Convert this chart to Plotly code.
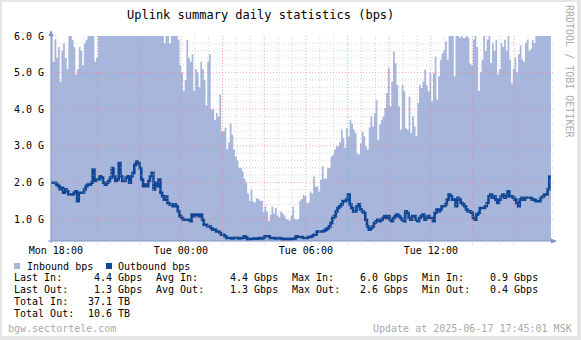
import plotly.graph_objects as go
import pandas as pd

# ---------------- data (Gbps, 5-minute samples starting Mon 17:46) ----------------
title_text = "Uplink summary daily statistics (bps)"
series_names = ["Inbound bps", "Outbound bps"]

inbound_gbps = [
    6.0, 5.3, 5.9, 5.4, 5.7, 4.75, 5.6, 5.8, 5.4, 5.1,
    6.0, 6.0, 5.9, 5.7, 4.95, 5.1, 5.7, 5.6, 5.2, 5.8,
    5.9, 6.0, 6.0, 6.0, 6.0, 5.3, 5.4,
    6.0, 6.0, 6.0, 6.0, 6.0, 6.0, 6.0, 6.0, 6.0, 6.0,
    6.0, 6.0, 6.0, 6.0, 6.0, 6.0, 6.0, 6.0, 6.0, 6.0,
    6.0, 6.0, 6.0, 6.0, 6.0, 6.0, 6.0, 6.0, 6.0, 6.0,
    6.0, 6.0, 6.0, 6.0, 6.0, 6.0, 6.0, 6.0,
    5.8, 6.0,
    6.0, 5.8, 6.0, 6.0, 6.0, 6.0, 5.9, 5.2, 5.0, 4.5,
    4.8, 5.9, 5.4, 5.3, 5.5, 4.5, 5.1, 5.0, 4.6, 5.3,
    5.1, 4.8, 4.1, 5.3, 5.5, 4.0, 4.0, 3.7, 3.9, 3.8,
    4.4, 3.4, 3.4, 3.5, 2.9, 3.1, 3.6, 3.3, 2.9, 2.7,
    2.6, 2.4, 2.4, 2.3, 2.1, 2.0, 1.7, 1.5, 1.8, 1.48,
    1.45, 1.57, 1.55, 1.5, 1.5, 1.2, 1.34, 1.2, 0.95, 1.12,
    1.34, 1.15, 1.3, 1.1, 1.05, 1.2, 1.15, 1.1, 1.0, 0.98,
    0.95, 1.1, 1.34, 1.0, 0.98, 1.0, 1.5, 1.55, 1.66, 1.62,
    1.43, 1.45, 1.75, 1.7, 2.16, 1.89, 1.89, 1.75, 2.07, 2.44,
    2.1, 2.1, 2.39, 2.4, 2.71, 2.75, 2.89, 2.98, 3.0, 3.1,
    3.44, 3.21, 2.94, 3.48, 3.26, 3.71, 3.6, 3.44, 3.35, 2.8,
    2.76, 3.07, 3.39, 3.26, 2.98, 2.89, 3.5, 3.8, 3.53, 3.89,
    4.26, 3.16, 3.58, 3.71, 3.8, 4.03, 4.44, 5.13, 4.08, 4.76,
    5.58, 5.26, 4.66, 4.08, 3.44, 4.66, 4.49, 3.48, 3.44, 4.35,
    3.35, 3.8, 3.53, 3.26, 4.17, 4.66, 4.58, 4.76, 5.08, 4.66,
    4.49, 4.99, 4.21, 4.99, 5.44, 4.26, 4.9, 5.35, 5.53, 5.62,
    5.85, 5.35, 6.0, 6.0, 6.0, 4.9, 6.0, 6.0, 5.95, 6.0,
    5.95, 5.95, 6.0, 5.95, 5.25, 5.2, 5.9, 6.0, 5.7, 4.5,
    5.0, 5.35, 6.0, 5.6, 5.9, 6.0, 5.26, 5.8, 5.6, 5.9,
    4.95, 5.1, 5.8, 5.7, 5.9, 5.6, 6.0, 5.35, 4.7, 5.1,
    5.4, 5.0, 5.5, 5.75, 5.35, 5.3, 5.8, 5.9, 5.6, 5.65,
    5.9, 5.8, 6.0, 6.0, 6.0, 6.0, 6.0, 6.0, 6.0, 6.0, 6.0,
]

outbound_gbps = [
    1.99, 1.99, 1.99, 1.94, 1.90, 1.81, 1.85, 1.72, 1.81, 1.76,
    1.67, 1.67, 1.67, 1.72, 1.76, 1.49, 1.72, 1.72, 1.72, 1.81,
    1.90, 1.94, 1.94, 1.99, 2.35, 2.04, 2.08, 2.08, 2.17, 2.13,
    1.99, 1.94, 1.99, 2.04, 2.13, 2.39, 2.17, 2.04, 2.08, 2.53,
    2.17, 2.04, 2.04, 2.13, 2.17, 1.99, 2.17, 2.26, 2.48, 2.57,
    2.53, 2.39, 2.08, 1.90, 1.94, 1.90, 2.04, 2.17, 2.26, 1.81,
    1.99, 1.90, 2.08, 1.72, 1.62, 1.53, 1.62, 1.44, 1.40, 1.40,
    1.35, 1.40, 1.35, 1.21, 1.08, 1.03, 0.98, 0.98, 0.98, 0.98,
    0.94, 1.12, 1.08, 1.12, 1.12, 1.08, 1.12, 0.98, 0.84, 0.84,
    0.80, 0.80, 0.75, 0.71, 0.71, 0.66, 0.66, 0.62, 0.57, 0.57,
    0.53, 0.48, 0.48, 0.48, 0.47, 0.48, 0.49, 0.48, 0.47, 0.48,
    0.48, 0.53, 0.50, 0.45, 0.45, 0.46, 0.46, 0.47, 0.46, 0.47,
    0.48, 0.47, 0.48, 0.53, 0.53, 0.53, 0.48, 0.48, 0.48, 0.47,
    0.48, 0.48, 0.47, 0.45, 0.45, 0.46, 0.45, 0.46, 0.45, 0.46,
    0.47, 0.53, 0.51, 0.51, 0.51, 0.48, 0.48, 0.48, 0.51, 0.51,
    0.53, 0.57, 0.57, 0.66, 0.66, 0.66, 0.66, 0.68, 0.71, 0.75,
    0.80, 0.89, 1.03, 1.08, 1.21, 1.30, 1.35, 1.40, 1.49, 1.49,
    1.53, 1.67, 1.40, 1.30, 1.21, 1.21, 1.35, 1.40, 1.26, 1.21,
    1.17, 0.98, 0.80, 0.71, 0.75, 0.80, 0.89, 0.94, 0.98, 0.94,
    0.98, 1.03, 1.08, 1.03, 1.08, 0.98, 0.94, 1.03, 1.08, 1.12,
    1.08, 1.03, 0.98, 0.94, 1.21, 1.17, 1.03, 0.98, 1.08, 1.08,
    0.98, 0.94, 1.03, 1.08, 1.12, 0.98, 1.03, 1.08, 1.03, 1.03,
    0.94, 1.17, 1.26, 1.21, 1.26, 1.35, 1.35, 1.40, 1.53, 1.67,
    1.62, 1.53, 1.53, 1.35, 1.58, 1.53, 1.44, 1.40, 1.35, 1.26,
    1.21, 1.21, 1.17, 1.03, 0.98, 1.12, 1.17, 1.30, 1.30, 1.30,
    1.35, 1.44, 1.62, 1.67, 1.58, 1.62, 1.53, 1.44, 1.53, 1.62,
    1.67, 1.58, 1.62, 1.76, 1.62, 1.62, 1.58, 1.53, 1.44, 1.35,
    1.53, 1.58, 1.53, 1.58, 1.58, 1.58, 1.58, 1.53, 1.53, 1.49,
    1.49, 1.49, 1.58, 1.62, 1.67, 1.67, 1.81, 2.16,
]

x_start = "2025-06-16 17:46"
x_end = "2025-06-17 17:46"
x_tick_times = ["2025-06-16 18:00", "2025-06-17 00:00", "2025-06-17 06:00", "2025-06-17 12:00"]
x_tick_labels = ["Mon 18:00", "Tue 00:00", "Tue 06:00", "Tue 12:00"]
y_ticks = [1.0, 2.0, 3.0, 4.0, 5.0, 6.0]
y_tick_labels = ["1.0 G", "2.0 G", "3.0 G", "4.0 G", "5.0 G", "6.0 G"]
y_range = [0.4, 6.0]

stat_row_in = ["Last In:", "4.4 Gbps", "Avg In:", "4.4 Gbps", "Max In:", "6.0 Gbps", "Min In:", "0.9 Gbps"]
stat_row_out = ["Last Out:", "1.3 Gbps", "Avg Out:", "1.3 Gbps", "Max Out:", "2.6 Gbps", "Min Out:", "0.4 Gbps"]
total_labels = ["Total In:", "Total Out:"]
total_values = ["37.1 TB", "10.6 TB"]
footer_left = "bgw.sectortele.com"
footer_right = "Update at 2025-06-17 17:45:01 MSK"
side_text = "RRDTOOL / TOBI OETIKER"

# ---------------- styling ----------------
W, H = 581, 340
L, R, T, B = 51, 30, 36, 99
PW, PH = W - L - R, H - T - B
MONO = "DejaVu Sans Mono"
IN_COLOR = "#a7b6dd"
OUT_COLOR = "#0f4796"
AXIS_COLOR = "#8193c8"


def px(x):
    return (x - L) / PW


def py(y):
    return 1 - (y - T) / PH


t_in = list(pd.date_range(x_start, periods=len(inbound_gbps), freq="5min"))
t_out = list(pd.date_range(x_start, periods=len(outbound_gbps), freq="5min"))
# hold the last sample to the right edge
t_in_full = t_in + [pd.Timestamp(x_end)]
in_full = inbound_gbps + [inbound_gbps[-1]]
t_out_full = t_out + [pd.Timestamp(x_end)]
out_full = outbound_gbps + [outbound_gbps[-1]]

fig = go.Figure()
fig.add_trace(go.Scatter(x=t_in_full, y=in_full, mode="lines", line=dict(width=0, shape="hv"),
                         fill="tozeroy", fillcolor=IN_COLOR, name=series_names[0], hoverinfo="skip"))
fig.add_trace(go.Scatter(x=t_out_full, y=out_full, mode="lines", line=dict(width=2.6, color=OUT_COLOR, shape="hv"),
                         name=series_names[1], hoverinfo="skip"))

shapes = []
# outer frame
shapes.append(dict(type="rect", xref="paper", yref="paper", x0=px(2), x1=px(577), y0=py(2), y1=py(336),
                   fillcolor="white", line=dict(width=0), layer="below"))

minor_grid = "rgba(185,185,185,0.6)"
major_grid = "rgba(255,120,120,0.65)"
# horizontal grid
for k in range(3, 30):
    v = round(k * 0.2, 2)
    if v >= y_range[1]:
        break
    is_major = abs(v - round(v)) < 1e-6
    shapes.append(dict(type="line", xref="paper", yref="y", x0=0, x1=px(553), y0=v, y1=v,
                       line=dict(color=major_grid if is_major else minor_grid, width=1, dash="1px,2px"),
                       layer="above"))
# vertical grid: minor every 40 min, major every 2 h
t0 = pd.Timestamp("2025-06-16 18:00")
tend = pd.Timestamp(x_end)
k = 0
while True:
    t = t0 + pd.Timedelta(minutes=40 * k)
    if t >= tend:
        break
    is_major = (40 * k) % 120 == 0
    shapes.append(dict(type="line", xref="x", yref="paper", x0=t, x1=t, y0=py(244), y1=1,
                       line=dict(color=major_grid if is_major else minor_grid, width=1, dash="1px,2px"),
                       layer="above"))
    k += 1

# axes with arrows
shapes.append(dict(type="line", xref="paper", yref="paper", x0=px(51), x1=px(51), y0=py(243), y1=py(33),
                   line=dict(color=AXIS_COLOR, width=1), layer="above"))
shapes.append(dict(type="line", xref="paper", yref="paper", x0=px(48), x1=px(553), y0=py(241), y1=py(241),
                   line=dict(color=AXIS_COLOR, width=1), layer="above"))
shapes.append(dict(type="path", xref="paper", yref="paper",
                   path=f"M {px(48.5)},{py(36)} L {px(53.5)},{py(36)} L {px(51)},{py(30)} Z",
                   fillcolor=AXIS_COLOR, line=dict(width=0), layer="above"))
shapes.append(dict(type="path", xref="paper", yref="paper",
                   path=f"M {px(551)},{py(238.5)} L {px(551)},{py(243.5)} L {px(557)},{py(241)} Z",
                   fillcolor=AXIS_COLOR, line=dict(width=0), layer="above"))

# legend squares
shapes.append(dict(type="rect", xref="paper", yref="paper", x0=px(14), x1=px(20), y0=py(263), y1=py(269),
                   fillcolor=IN_COLOR, line=dict(width=0)))
shapes.append(dict(type="rect", xref="paper", yref="paper", x0=px(106), x1=px(112), y0=py(263), y1=py(269),
                   fillcolor=OUT_COLOR, line=dict(width=0)))

annotations = []


def text(s, x, y, anchor="left", color="#000000", size=10, angle=0):
    annotations.append(dict(text=s, xref="paper", yref="paper", x=px(x), y=py(y), xanchor=anchor,
                            yanchor="middle", showarrow=False, borderpad=0, borderwidth=0,
                            textangle=angle, font=dict(family=MONO, size=size, color=color)))


text(title_text, 260, 15, anchor="center", size=12)
text(side_text, 570, 71, anchor="center", color="#aaaaaa", size=10, angle=90)

text(series_names[0], 27, 266)
text(series_names[1], 118, 266)

col_x = [14, 94.3, 156, 230, 292, 360, 422, 490]
for s, x in zip(stat_row_in, col_x):
    text(s, x, 277.5)
for s, x in zip(stat_row_out, col_x):
    text(s, x, 289.5)
text(total_labels[0], 14, 301.5)
text(total_values[0], 88, 301.5)
text(total_labels[1], 14, 313)
text(total_values[1], 88, 313)

text(footer_left, 8, 328, color="#aaaaaa")
text(footer_right, 572, 328, anchor="right", color="#aaaaaa")

fig.update_layout(
    width=W, height=H,
    margin=dict(l=L, r=R, t=T, b=B, pad=0),
    paper_bgcolor="#e6e6e6",
    plot_bgcolor="white",
    showlegend=False,
    shapes=shapes,
    annotations=annotations,
    xaxis=dict(type="date", range=[x_start, x_end], tickvals=x_tick_times, ticktext=x_tick_labels,
               showgrid=False, zeroline=False, showline=False, ticks="", automargin=False,
               tickfont=dict(family=MONO, size=10, color="#000000"), ticklabelstandoff=2),
    yaxis=dict(range=y_range, tickvals=y_ticks, ticktext=y_tick_labels, showgrid=False, zeroline=False,
               showline=False, ticks="", automargin=False,
               tickfont=dict(family=MONO, size=10, color="#000000"), ticklabelstandoff=6),
)

fig.write_html("out.html")
